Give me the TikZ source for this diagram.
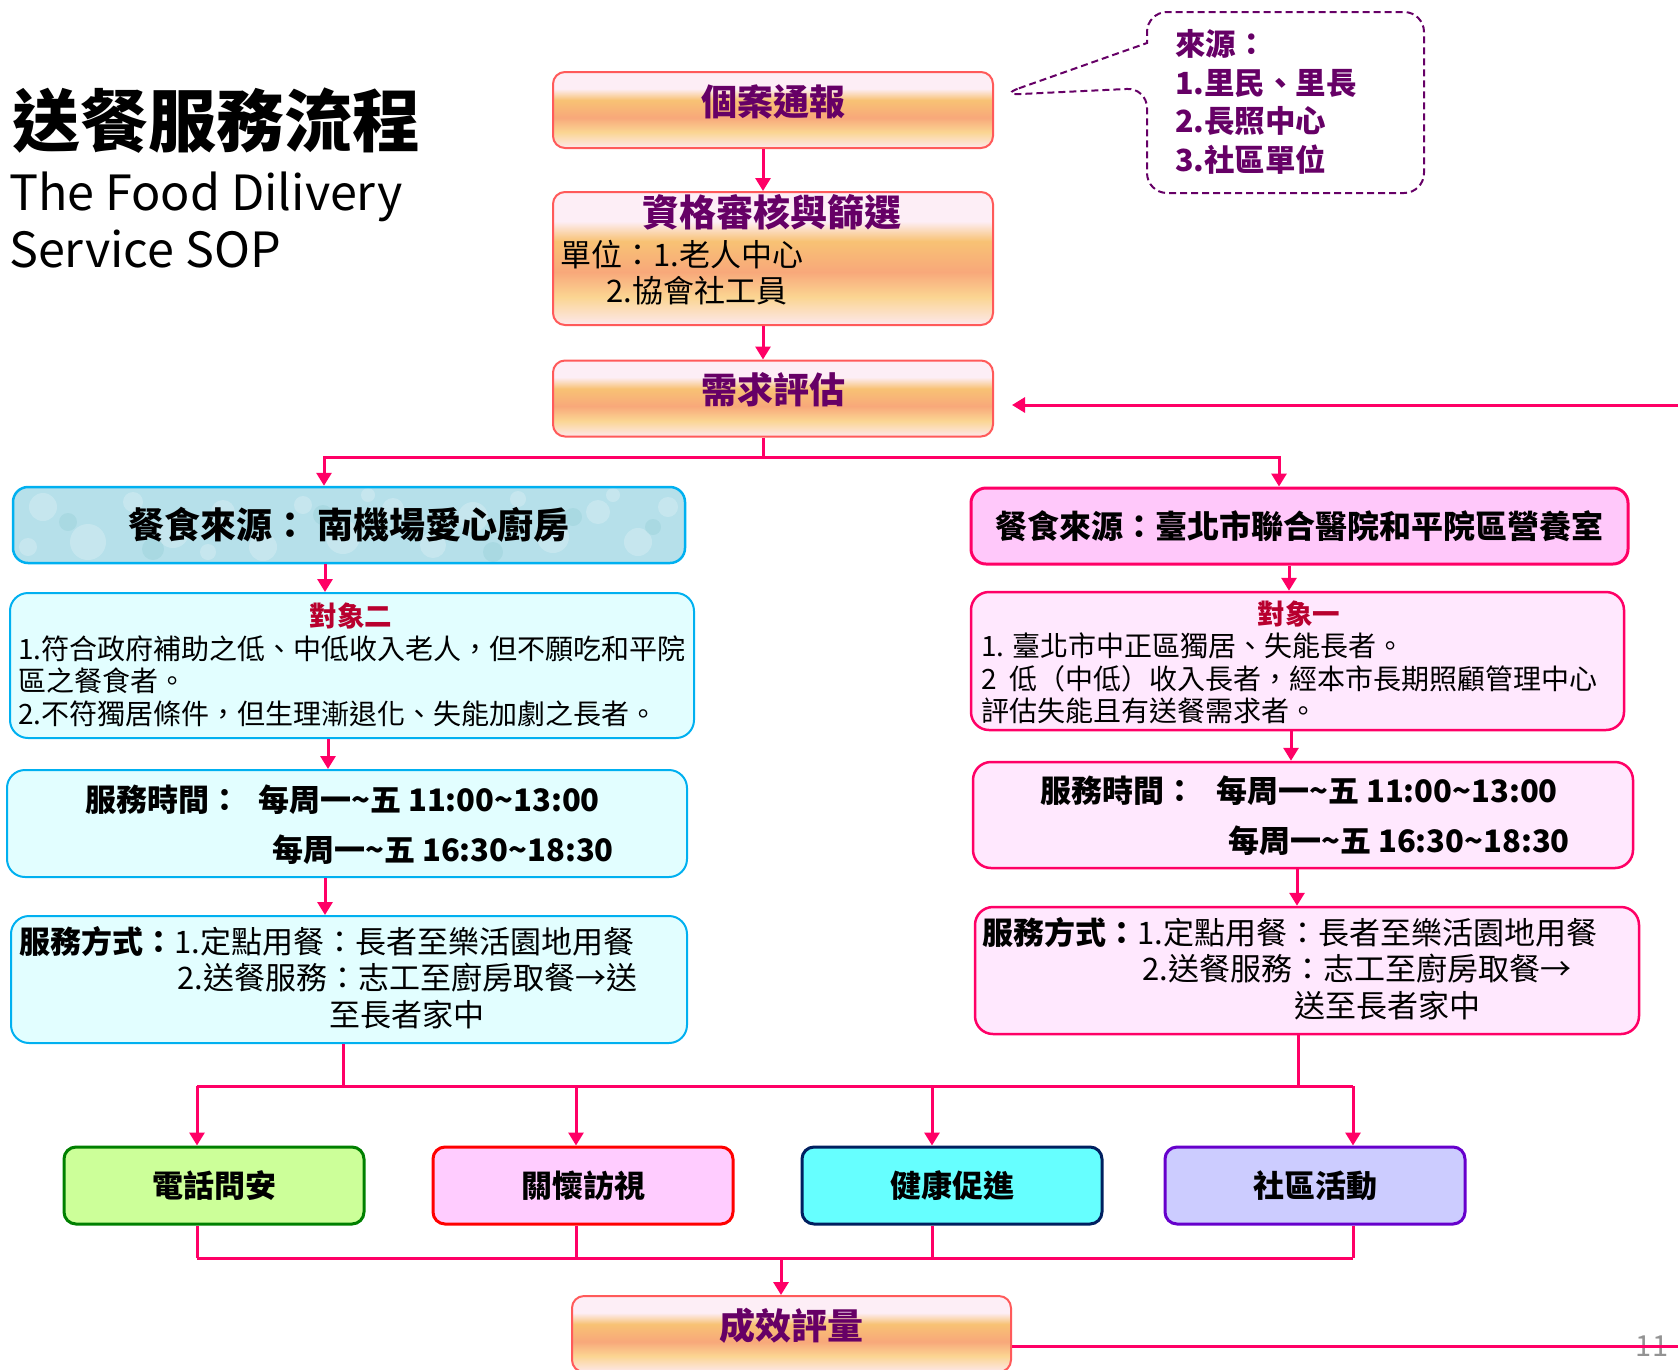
\documentclass[tikz,border=0pt]{standalone}
\usepackage{fontspec}
\setmainfont{Noto Sans CJK TC}
\usetikzlibrary{calc,arrows.meta,positioning}

\definecolor{hotpink}{HTML}{FF0066}
\definecolor{plum}{HTML}{660066}
\definecolor{coral}{HTML}{FF5A5A}
\definecolor{skyline}{HTML}{00B0F0}
\definecolor{icecyan}{HTML}{E2FEFF}
\definecolor{water}{HTML}{B6E0EA}
\definecolor{blush}{HTML}{FFE8FE}
\definecolor{orchid}{HTML}{FFC8FA}
\definecolor{tagred}{HTML}{B8002E}
\definecolor{lime}{HTML}{CCFF99}
\definecolor{leaf}{HTML}{008000}
\definecolor{candy}{HTML}{FFCCFF}
\definecolor{aqua}{HTML}{66FFFF}
\definecolor{navy}{HTML}{002060}
\definecolor{lavender}{HTML}{CCCCFF}
\definecolor{grape}{HTML}{6600CC}
\definecolor{pearlB}{HTML}{FDE8EC}
\definecolor{pearlY}{HTML}{FBD592}
\definecolor{pearlS}{HTML}{F8A87A}
\definecolor{pearlO}{HTML}{F8C274}
\definecolor{pearlT}{HTML}{FDEEF6}

% the path covers 25bp..75bp of the shading
\pgfdeclareverticalshading{pearl}{100bp}{color(0bp)=(pearlB); color(25bp)=(pearlB);
  color(35.5bp)=(pearlY); color(45bp)=(pearlS); color(56.5bp)=(pearlO);
  color(64bp)=(pearlT); color(100bp)=(pearlT)}

\newcommand\tld{\textasciitilde}

\tikzset{
  conn/.style={hotpink,line width=3pt},
  arr/.style={conn,-{Triangle[width=15pt,length=13pt]}},
  pearlbox/.style={draw=coral,line width=2pt,rounded corners=12pt,shading=pearl,
    minimum width=440pt,minimum height=76pt,text=plum,text height=26pt,text depth=16pt,
    font=\fontsize{36}{40}\selectfont\bfseries},
  cyanbox/.style={draw=skyline,line width=2pt,fill=icecyan,rounded corners=18pt},
  pinkbox/.style={draw=hotpink,line width=2.5pt,fill=blush,rounded corners=18pt},
  actbox/.style={line width=3pt,rounded corners=12pt,minimum width=300pt,
    minimum height=77pt,font=\fontsize{31}{34}\selectfont\bfseries},
  tagtxt/.style={inner sep=0pt,text=tagred,font=\fontsize{27.5}{30}\selectfont\bfseries},
  body/.style={inner sep=0pt,align=left,anchor=west,font=\fontsize{28}{32.5}\selectfont},
  timetxt/.style={inner sep=0pt,align=left,anchor=west,font=\fontsize{31}{50}\selectfont\bfseries},
  waytxt/.style={inner sep=0pt,align=left,anchor=west,font=\fontsize{31}{36.5}\selectfont},
  callout/.style={plum,dash pattern=on 7pt off 4pt,line width=2pt}
}

\begin{document}
\begin{tikzpicture}[x=1pt,y=-1pt]
  \useasboundingbox (0,0) rectangle (1678,1369);

  % title
  \node[anchor=west,inner sep=0pt,font=\fontsize{68}{70}\selectfont\bfseries] (title) at (12,121) {送餐服務流程};
  \node[anchor=west,inner sep=0pt,align=left,font=\fontsize{48.5}{57}\selectfont] (subtitle) at (9,220) {The Food Dilivery\\Service SOP};

  % intake
  \node[pearlbox] (report) at (773,110) {個案通報};
  \node[pearlbox,minimum height=133pt] (screen) at (773,258.5) {};
  \node[inner sep=0pt,text=plum,font=\fontsize{37}{40}\selectfont\bfseries] (screentitle) at (772,212) {資格審核與篩選};
  \node[waytxt] (units) at (560,272.5) {單位：1.老人中心\\\hspace{46pt}2.協會社工員};
  \node[pearlbox] (need) at (773,398.5) {需求評估};

  % source callout
  \coordinate (tip) at ($(report.east)+(6,-15)$);
  \draw[callout] (tip) -- (1147,43) [rounded corners=20pt] -- (1147,12) -- (1424,12)
    -- (1424,193) -- (1147,193) -- (1147,88) -- cycle;
  \node[inner sep=0pt,align=left,anchor=west,text=plum,font=\fontsize{30.5}{38.5}\selectfont\bfseries] (src) at (1175,102) {來源：\\1.里民、里長\\2.長照中心\\3.社區單位};

  % left branch
  \node[draw=skyline,line width=2.5pt,fill=water,rounded corners=15pt,minimum width=672pt,
    minimum height=76pt,font=\fontsize{36}{40}\selectfont\bfseries,
    path picture={
      \foreach \bx/\by/\br in {30/20/14,75/55/18,120/15/10,160/45/16,210/25/12,250/60/14,
        290/18/9,330/50/17,380/22/11,420/58/13,460/30/15,505/12/8,540/50/16,585/25/12,
        625/55/14,655/20/10,15/60/9,195/65/8,355/8/7,600/8/7}
        \fill[white,opacity=.22] ($(path picture bounding box.north west)+(\bx,\by)$) circle (\br pt);
      \foreach \bx/\by/\br in {55/35/9,140/62/11,235/40/8,310/28/10,400/45/9,480/65/10,560/30/9,640/40/8}
        \fill[teal,opacity=.07] ($(path picture bounding box.north west)+(\bx,\by)$) circle (\br pt);
    }] (kitchen) at (349,525) {餐食來源：\hspace{10pt}南機場愛心廚房};
  \node[cyanbox,minimum width=684pt,minimum height=145pt] (target2) at (352,665.5) {};
  \node[tagtxt] (tag2) at (351,616) {對象二};
  \node[body] (who2) at (18,681) {1.符合政府補助之低、中低收入老人，但不願吃和平院\\區之餐食者。\\2.不符獨居條件，但生理漸退化、失能加劇之長者。};
  \node[cyanbox,minimum width=680pt,minimum height=107pt] (time2) at (347,823.5) {};
  \node[timetxt] (hours2) at (85,825) {服務時間：\hspace{18pt}每周一\tld 五 11:00\tld 13:00\\\hspace{187pt}每周一\tld 五 16:30\tld 18:30};
  \node[cyanbox,minimum width=676pt,minimum height=127pt] (mode2) at (349,979.5) {};
  \node[waytxt] (way2) at (19,977.5) {\textbf{服務方式：}1.定點用餐：長者至樂活園地用餐\\\hspace{158pt}2.送餐服務：志工至廚房取餐→送\\\hspace{310pt}至長者家中};

  % right branch
  \node[draw=hotpink,line width=3pt,fill=orchid,rounded corners=15pt,minimum width=657pt,
    minimum height=76pt,font=\fontsize{32}{36}\selectfont\bfseries] (hosp) at (1299.5,526) {餐食來源：臺北市聯合醫院和平院區營養室};
  \node[pinkbox,minimum width=653pt,minimum height=138pt] (target1) at (1297.5,661) {};
  \node[tagtxt] (tag1) at (1299,614) {對象一};
  \node[body] (who1) at (981,678.5) {1. 臺北市中正區獨居、失能長者。\\2\ \ 低（中低）收入長者，經本市長期照顧管理中心\\評估失能且有送餐需求者。};
  \node[pinkbox,minimum width=660pt,minimum height=106pt] (time1) at (1303,815) {};
  \node[timetxt] (hours1) at (1040,815.5) {服務時間：\hspace{21pt}每周一\tld 五 11:00\tld 13:00\\\hspace{188pt}每周一\tld 五 16:30\tld 18:30};
  \node[pinkbox,minimum width=664pt,minimum height=127pt] (mode1) at (1307,970.5) {};
  \node[waytxt] (way1) at (982,968.5) {\textbf{服務方式：}1.定點用餐：長者至樂活園地用餐\\\hspace{160pt}2.送餐服務：志工至廚房取餐→\\\hspace{312pt}送至長者家中};

  % services
  \node[actbox,draw=leaf,fill=lime] (phone) at (214,1185.5) {電話問安};
  \node[actbox,draw=red,fill=candy] (visit) at (583,1185.5) {關懷訪視};
  \node[actbox,draw=navy,fill=aqua] (health) at (952,1185.5) {健康促進};
  \node[actbox,draw=grape,fill=lavender] (comm) at (1315,1185.5) {社區活動};
  \node[pearlbox,minimum width=439pt] (eval) at (791.5,1334) {成效評量};
  \node[text=gray!85,font=\fontsize{29}{30}\selectfont] (pageno) at (1652,1346) {11};

  % connectors
  \draw[arr] ([xshift=-10pt]report.south) -- ([xshift=-10pt]screen.north);
  \draw[arr] ([xshift=-10pt]screen.south) -- ([xshift=-10pt]need.north);
  \draw[conn] ([xshift=-10pt]need.south) -- ++(0,20) coordinate (fork);
  \draw[arr] (fork) -| ([xshift=-25pt]kitchen.north);
  \draw[arr] (fork) -| ([xshift=-20.5pt]hosp.north);
  \coordinate (fb) at (1678,405);
  \draw[arr] (fb) -- ($(need.east)+(18,6.5)$);

  \draw[arr] ([xshift=-24pt]kitchen.south) -- ([xshift=-24pt]kitchen.south |- target2.north);
  \draw[arr] ([xshift=-24pt]target2.south) -- ([xshift=-24pt]target2.south |- time2.north);
  \draw[arr] ([xshift=-22pt]time2.south) -- ([xshift=-22pt]time2.south |- mode2.north);
  \draw[conn] ([xshift=-6pt]mode2.south) -- ++(0,42) coordinate (joinL);

  \draw[arr] ([xshift=-10.5pt]hosp.south) -- ([xshift=-10.5pt]hosp.south |- target1.north);
  \draw[arr] ([xshift=-6.5pt]target1.south) -- ([xshift=-6.5pt]target1.south |- time1.north);
  \draw[arr] ([xshift=-6pt]time1.south) -- ([xshift=-6pt]time1.south |- mode1.north);
  \draw[conn] ([xshift=-9pt]mode1.south) -- ++(0,51) coordinate (joinR);

  \draw[conn] ([xshift=-17pt]phone.north |- joinL) -- ([xshift=38pt]comm.north |- joinL);
  \coordinate (merge) at ($(eval.north)+(-10.5,-37)$);
  \draw[conn] ([xshift=-17pt]phone.south |- merge) -- ([xshift=38pt]comm.south |- merge);
  \foreach \act/\dx in {phone/-17,visit/-7,health/-20,comm/38} {
    \draw[arr] ([xshift=\dx pt]\act.north |- joinL) -- ([xshift=\dx pt]\act.north);
    \draw[conn] ([xshift=\dx pt]\act.south) -- ([xshift=\dx pt]\act.south |- merge);
  }
  \draw[arr] (merge) -- ([xshift=-10.5pt]eval.north);
  \draw[conn] ([yshift=-12pt]eval.east) -- ++(667,0);
\end{tikzpicture}
\end{document}
